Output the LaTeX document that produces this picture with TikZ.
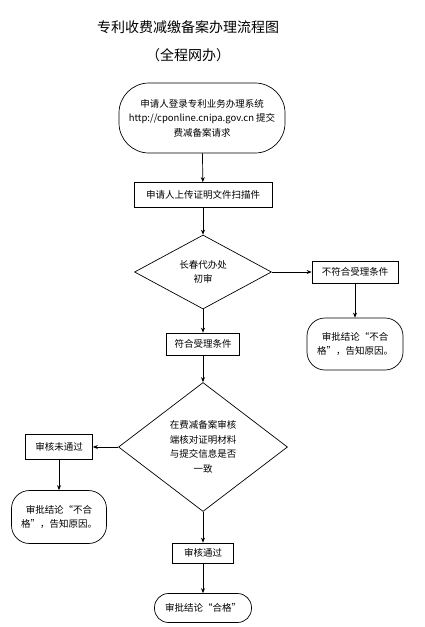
\documentclass[tikz,border=0pt]{standalone}
\usepackage{fontspec}
\setmainfont{Noto Sans CJK SC}
\usetikzlibrary{positioning, arrows.meta, shapes.geometric}

\begin{document}
\begin{tikzpicture}[x=1pt, y=-1pt,
    every node/.style={font=\fontsize{9.5}{14.5}\selectfont, align=center},
    title/.style={font=\fontsize{14}{16}\selectfont},
    box/.style={draw, line width=0.7pt, inner sep=2pt},
    roundbox/.style={draw, line width=0.7pt, rounded corners=#1, inner sep=2pt},
    check/.style={draw, line width=0.7pt, diamond, inner sep=0pt},
    flow/.style={-{Stealth[length=5pt, width=4pt]}, line width=0.7pt},
]
\useasboundingbox (0,0) rectangle (424,627);

% Title
\node[title] (title) at (188,27) {专利收费减缴备案办理流程图};
\node[title] (online) at (188,55) {（全程网办）};

% Main column
\node[roundbox=30pt, minimum width=166pt, minimum height=70pt] (apply) at (202,118)
  {申请人登录专利业务办理系统\\http://cponline.cnipa.gov.cn 提交\\费减备案请求};
\node[box, minimum width=138pt, minimum height=25pt] (upload) at (203,195) {申请人上传证明文件扫描件};
\node[check, minimum width=137pt, minimum height=74pt] (first) at (203,272) {长春代办处\\初审};
\node[box, minimum width=73pt, minimum height=22pt] (accept) at (203,344) {符合受理条件};
\node[check, minimum width=169pt, minimum height=129pt] (verify) at (203,447)
  {在费减备案审核\\端核对证明材料\\与提交信息是否\\一致};
\node[box, minimum width=61pt, minimum height=20pt] (pass) at (203,553) {审核通过};
\node[roundbox=14pt, minimum width=97pt, minimum height=29pt] (ok) at (203,608) {审批结论“合格”};

% Right branch
\node[box, minimum width=86pt, minimum height=22pt] (reject) at (355,272) {不符合受理条件};
\node[roundbox=18pt, minimum width=96pt, minimum height=52pt] (fail1) at (355,344)
  {审批结论“不合\\格”，告知原因。};

% Left branch
\node[box, minimum width=67pt, minimum height=25pt] (nopass) at (59,447) {审核未通过};
\node[roundbox=18pt, minimum width=95pt, minimum height=53pt] (fail2) at (59,517)
  {审批结论“不合\\格”，告知原因。};

% Connectors
\draw[flow] (apply) -- (upload);
\draw[flow] (upload) -- (first);
\draw[flow] (first) -- (accept);
\draw[flow] (accept) -- (verify);
\draw[flow] (verify) -- (pass);
\draw[flow] (pass) -- (ok);
\draw[flow] (first) -- (reject);
\draw[flow] (reject) -- (fail1);
\draw[flow] (verify) -- (nopass);
\draw[flow] (nopass) -- (fail2);

\end{tikzpicture}
\end{document}
